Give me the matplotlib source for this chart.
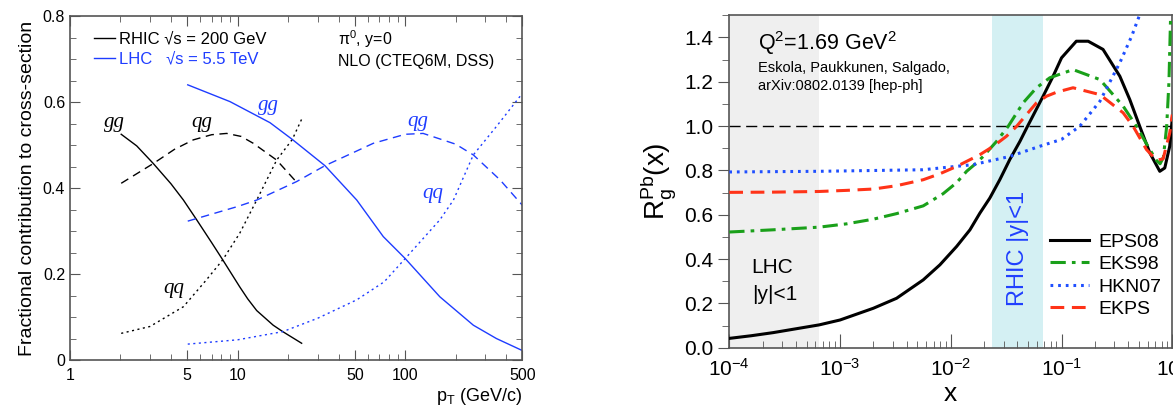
import matplotlib
matplotlib.use("Agg")
import matplotlib.pyplot as plt
from matplotlib.ticker import FixedLocator, NullFormatter, MultipleLocator, LogLocator, FixedFormatter

plt.rcParams["font.family"] = ["Liberation Sans", "DejaVu Sans"]
plt.rcParams["mathtext.fontset"] = "custom"
plt.rcParams["mathtext.rm"] = "Liberation Sans"
plt.rcParams["mathtext.it"] = "Liberation Sans:italic"
plt.rcParams["mathtext.default"] = "regular"

BLUE = "#1e3cff"
SPINE = "#555555"

# ---- left panel: fractional contributions vs pT ----
rhic_gg_pt = [2.02, 2.5, 3.14, 4.0, 4.75, 5.7, 7.0, 8.15, 10.3, 11.5, 13.0, 16.3, 18.6, 24.1]
rhic_gg = [0.525, 0.498, 0.457, 0.410, 0.372, 0.326, 0.273, 0.233, 0.170, 0.142, 0.115, 0.081,
           0.066, 0.039]
rhic_qg_pt = [2.02, 3.14, 4.2, 5.44, 7.0, 8.61, 10.5, 12.4, 17.1, 22.8]
rhic_qg = [0.411, 0.457, 0.490, 0.512, 0.524, 0.527, 0.520, 0.504, 0.465, 0.411]
rhic_qq_pt = [2.02, 3.0, 4.75, 6.5, 8.15, 10.3, 13.0, 17.1, 21.2, 24.1]
rhic_qq = [0.062, 0.078, 0.124, 0.186, 0.233, 0.295, 0.372, 0.465, 0.513, 0.560]

lhc_gg_pt = [5.04, 9.0, 15.6, 21.2, 33.2, 51.4, 74.0, 100.0, 161.0, 255.0, 350.0, 500.0]
lhc_gg = [0.640, 0.601, 0.552, 0.513, 0.452, 0.372, 0.287, 0.236, 0.147, 0.081, 0.050, 0.022]
lhc_qg_pt = [5.04, 10.0, 13.0, 22.5, 33.2, 50.0, 64.5, 100.0, 128.0, 200.0, 255.0, 368.0, 500.0]
lhc_qg = [0.323, 0.357, 0.372, 0.415, 0.452, 0.484, 0.504, 0.525, 0.527, 0.502, 0.477, 0.419, 0.360]
lhc_qq_pt = [5.04, 10.0, 18.6, 30.0, 51.4, 75.0, 100.0, 161.0, 194.0, 255.0, 350.0, 500.0]
lhc_qq = [0.037, 0.047, 0.066, 0.097, 0.140, 0.182, 0.236, 0.326, 0.372, 0.477, 0.543, 0.620]

# ---- right panel: gluon nuclear modification ----
eps08_x = [1e-4, 1.58e-4, 2.49e-4, 6.49e-4, 1e-3, 2e-3, 3.24e-3, 5.64e-3, 7.98e-3, 1.13e-2,
           1.49e-2, 1.83e-2, 2.25e-2, 2.77e-2, 3.41e-2, 4.21e-2, 4.93e-2, 6.82e-2, 8.39e-2,
           0.1, 0.136, 0.174, 0.237, 0.336, 0.413, 0.508, 0.627, 0.771, 0.855, 0.948, 1.0]
eps08 = [0.042, 0.054, 0.068, 0.103, 0.125, 0.178, 0.223, 0.306, 0.374, 0.457,
         0.532, 0.607, 0.675, 0.758, 0.849, 0.931, 0.999, 1.135, 1.225,
         1.308, 1.383, 1.383, 1.346, 1.225, 1.120, 0.999, 0.879, 0.796, 0.811, 0.909, 1.035]
eks98_x = [1e-4, 2.49e-4, 6.49e-4, 1.15e-3, 2e-3, 3.24e-3, 5.64e-3, 8.53e-3, 1.13e-2,
           1.39e-2, 1.71e-2, 1.96e-2, 2.59e-2, 3.3e-2, 4.5e-2, 5.94e-2, 7.83e-2, 0.127, 0.222,
           0.36, 0.475, 0.627, 0.72, 0.776, 0.832, 0.89, 0.933, 0.966]
eks98 = [0.522, 0.532, 0.544, 0.559, 0.580, 0.605, 0.640, 0.695, 0.745,
         0.796, 0.834, 0.863, 0.931, 0.999, 1.105, 1.173, 1.218, 1.255, 1.210,
         1.090, 0.999, 0.894, 0.845, 0.830, 0.860, 1.000, 1.200, 1.500]
hkn07_x = [1e-4, 6.5e-4, 5.6e-3, 1.59e-2, 3.41e-2, 6.37e-2, 0.1, 0.146, 0.222, 0.336, 0.43, 0.51]
hkn07 = [0.793, 0.796, 0.803, 0.826, 0.863, 0.909, 0.940, 0.999, 1.112, 1.286, 1.406, 1.505]
ekps_x = [1e-4, 2.49e-4, 6.49e-4, 1.15e-3, 2e-3, 3.24e-3, 5.64e-3, 7.98e-3, 1.13e-2, 1.83e-2,
          2.42e-2, 3.18e-2, 3.93e-2, 4.83e-2, 5.94e-2, 7.33e-2, 9.02e-2, 0.127, 0.222, 0.36,
          0.443, 0.585, 0.72, 0.826, 0.948, 1.0]
ekps = [0.701, 0.702, 0.705, 0.710, 0.716, 0.731, 0.758, 0.785, 0.818, 0.871,
        0.909, 0.954, 0.999, 1.052, 1.105, 1.135, 1.153, 1.173, 1.142, 1.060,
        0.999, 0.894, 0.846, 0.852, 0.969, 1.052]

lhc_band = (1e-4, 6.5e-4)
rhic_band = (0.0238, 0.0675)

fig = plt.figure(figsize=(11.73, 4.08), dpi=100)
ax1 = fig.add_axes([0.0597, 0.1176, 0.3856, 0.8431])
ax2 = fig.add_axes([0.6217, 0.1478, 0.3777, 0.8147])

# left panel
lw = 1.0
ax1.plot(rhic_gg_pt, rhic_gg, color="black", lw=lw, label="RHIC \u221as = 200 GeV")
ax1.plot(rhic_qg_pt, rhic_qg, color="black", lw=lw, dashes=(6, 4))
ax1.plot(rhic_qq_pt, rhic_qq, color="black", lw=lw, dashes=(1.5, 2.5))
ax1.plot(lhc_gg_pt, lhc_gg, color=BLUE, lw=lw, label="LHC   \u221as = 5.5 TeV")
ax1.plot(lhc_qg_pt, lhc_qg, color=BLUE, lw=lw, dashes=(6, 4))
ax1.plot(lhc_qq_pt, lhc_qq, color=BLUE, lw=lw, dashes=(1.5, 2.5))

ax1.set_xscale("log")
ax1.set_xlim(1, 500)
ax1.set_ylim(0, 0.8)
ax1.xaxis.set_major_locator(FixedLocator([1, 5, 10, 50, 100, 500]))
ax1.xaxis.set_major_formatter(FixedFormatter(["1", "5", "10", "50", "100", "500"]))
ax1.xaxis.set_minor_locator(LogLocator(base=10, subs=range(2, 10)))
ax1.xaxis.set_minor_formatter(NullFormatter())
ax1.yaxis.set_major_locator(MultipleLocator(0.2))
ax1.yaxis.set_minor_locator(MultipleLocator(0.05))
ax1.yaxis.set_major_formatter(plt.FuncFormatter(lambda v, p: "0" if abs(v) < 1e-9 else f"{v:.1f}"))
ax1.tick_params(which="both", direction="in", top=True, right=True, labelsize=11.5, colors=SPINE,
                labelcolor="black")
ax1.tick_params(which="major", length=7)
ax1.tick_params(which="minor", length=4)
ax1.tick_params(axis="x", pad=6)
for s in ax1.spines.values():
    s.set_color(SPINE)
    s.set_linewidth(1.2)

ax1.set_ylabel("Fractional contribution to cross-section", fontsize=14, labelpad=5)
ax1.set_xlabel("p$_T$ (GeV/c)", fontsize=13, loc="right", labelpad=2)

ax1.legend(loc="upper left", bbox_to_anchor=(0.052, 0.955), frameon=False, fontsize=12,
           handlelength=1.3, handletextpad=0.2, labelspacing=0.3, borderpad=0,
           borderaxespad=0, labelcolor="linecolor")

ax1.text(0.592, 0.933, "\u03c0$^0$, y=0", transform=ax1.transAxes, fontsize=11.5, va="center")
ax1.text(0.592, 0.869, "NLO (CTEQ6M, DSS)", transform=ax1.transAxes, fontsize=11.5, va="center")

lab = dict(family=["Liberation Serif", "DejaVu Serif"], style="italic", fontsize=15, ha="center",
           va="center")
ax1.text(1.83, 0.553, "gg", color="black", **lab)
ax1.text(6.1, 0.552, "qg", color="black", **lab)
ax1.text(4.14, 0.166, "qq", color="black", **lab)
ax1.text(15.3, 0.593, "gg", color=BLUE, **lab)
ax1.text(119, 0.555, "qg", color=BLUE, **lab)
ax1.text(147, 0.387, "qq", color=BLUE, **lab)

# right panel
ax2.axvspan(*lhc_band, color="#efefef", lw=0, zorder=0)
ax2.axvspan(*rhic_band, color="#d4f0f3", lw=0, zorder=0)
ax2.axhline(1.0, color="black", lw=1.0, dashes=(8, 4), zorder=1)

ax2.plot(eps08_x, eps08, color="black", lw=2.2, label="EPS08", zorder=3)
ax2.plot(eks98_x, eks98, color="#1aa01a", lw=2.2, dashes=(5, 2, 1.2, 2), label="EKS98", zorder=3)
ax2.plot(hkn07_x, hkn07, color="#1f4fff", lw=2.2, dashes=(0.9, 1.6), label="HKN07", zorder=3)
ax2.plot(ekps_x, ekps, color="#ff3318", lw=2.2, dashes=(4.5, 2.5), label="EKPS", zorder=3)

ax2.set_xscale("log")
ax2.set_xlim(1e-4, 1)
ax2.set_ylim(0, 1.5)
ax2.xaxis.set_major_locator(LogLocator(base=10, numticks=10))
ax2.xaxis.set_minor_locator(LogLocator(base=10, subs=range(2, 10), numticks=10))
ax2.xaxis.set_minor_formatter(NullFormatter())
ax2.yaxis.set_major_locator(MultipleLocator(0.2))
ax2.yaxis.set_minor_locator(MultipleLocator(0.1))
ax2.yaxis.set_major_formatter(plt.FuncFormatter(lambda v, p: f"{v:.1f}"))
ax2.tick_params(axis="x", which="both", direction="in", labelsize=15, colors=SPINE,
                labelcolor="black", pad=7)
ax2.tick_params(axis="y", which="both", direction="out", labelsize=15, colors=SPINE,
                labelcolor="black")
ax2.tick_params(axis="x", which="major", length=10)
ax2.tick_params(axis="x", which="minor", length=5)
ax2.tick_params(axis="y", which="major", length=8)
ax2.tick_params(axis="y", which="minor", length=5)
for s in ax2.spines.values():
    s.set_color(SPINE)
    s.set_linewidth(1.2)

ax2.set_xlabel("x", fontsize=19, labelpad=2)
ax2.set_ylabel("R$_g^{Pb}$(x)", fontsize=20, labelpad=4)

ax2.text(0.065, 0.896, "Q$^2$=1.69 GeV$^2$", transform=ax2.transAxes, fontsize=15.5, va="baseline")
ax2.text(0.065, 0.830, "Eskola, Paukkunen, Salgado,", transform=ax2.transAxes, fontsize=10.5,
         va="baseline")
ax2.text(0.065, 0.775, "arXiv:0802.0139 [hep-ph]", transform=ax2.transAxes, fontsize=10.5,
         va="baseline")
ax2.text(0.0505, 0.224, "LHC", transform=ax2.transAxes, fontsize=15, va="baseline")
ax2.text(0.0505, 0.1435, "|y|<1", transform=ax2.transAxes, fontsize=15, va="baseline")
ax2.text(0.0401, 0.45, "RHIC |y|<1", color="#1f3fff", fontsize=17, rotation=90, ha="center",
         va="center")

ax2.legend(loc="upper left", bbox_to_anchor=(0.724, 0.345), frameon=False, fontsize=14,
           handlelength=2.0, handletextpad=0.5, labelspacing=0.25, borderpad=0, borderaxespad=0)

fig.savefig("out.png", dpi=100)
